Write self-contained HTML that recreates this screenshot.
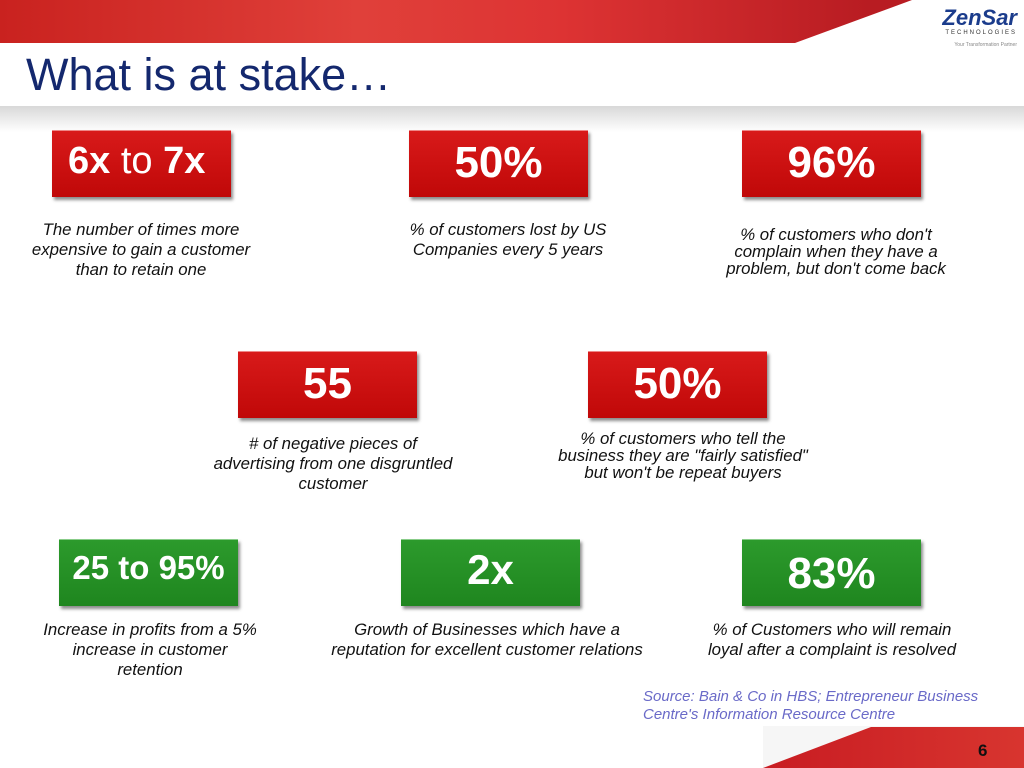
<!DOCTYPE html>
<html><head><meta charset="utf-8"><style>
body{margin:0;width:1024px;height:768px;overflow:hidden;background:#fff;font-family:"Liberation Sans",sans-serif;position:relative}
.abs{position:absolute}
.box{position:absolute;width:179px;height:66px;color:#fff;font-weight:bold;font-size:45px;text-align:center;line-height:64px;box-shadow:2px 3px 3px rgba(0,0,0,.45);border-top:1px solid #e88;white-space:nowrap}
.red{background:linear-gradient(#d81a1a,#c00808)}
.green{background:linear-gradient(#2c9a2c,#1f861f);border-top-color:#8c8}
.desc{position:absolute;font-style:italic;font-size:16.8px;text-align:center;color:#111;line-height:20px;white-space:nowrap}
</style></head><body>
<div class="abs" style="left:0;top:0;width:1024px;height:43px;background:linear-gradient(90deg,#c9221f,#e0403a 35%,#d33 55%,#b81c22 85%)"></div>
<svg class="abs" style="left:0;top:0" width="1024" height="43"><polygon points="795,43 912,0 1024,0 1024,43" fill="#fff"/></svg>
<div class="abs" style="left:925px;top:6px;width:92px;text-align:right">
<div style="color:#1b3c8c;font-weight:bold;font-style:italic;font-size:22px;line-height:24px">ZenSar</div>
<div style="color:#333;font-size:6px;letter-spacing:2px">TECHNOLOGIES</div>
<div style="color:#888;font-size:5px;margin-top:6px">Your Transformation Partner</div></div>
<div class="abs" style="left:26px;top:49px;font-size:45px;color:#14286e;line-height:52px">What is at stake…</div>
<div class="abs" style="left:0;top:106px;width:1024px;height:26px;background:linear-gradient(#d8d8d8,#fff)"></div>

<div class="box red" style="left:52px;top:130px;font-size:38px;text-align:left;padding-left:16px;width:163px;line-height:60px">6x <span style="font-weight:normal">to</span> 7x</div>
<div class="box red" style="left:409px;top:130px;font-size:44px">50%</div>
<div class="box red" style="left:742px;top:130px;font-size:44px">96%</div>
<div class="box red" style="left:238px;top:351px;font-size:44px">55</div>
<div class="box red" style="left:588px;top:351px;font-size:44px">50%</div>
<div class="box green" style="left:59px;top:539px;font-size:33px;line-height:56px">25 to 95%</div>
<div class="box green" style="left:401px;top:539px;font-size:42px;line-height:60px">2x</div>
<div class="box green" style="left:742px;top:539px;font-size:44px;line-height:68px">83%</div>

<div class="desc" style="left:21px;top:220px;width:240px">The number of times more<br>expensive to gain a customer<br>than to retain one</div>
<div class="desc" style="left:388px;top:220px;width:240px">% of customers lost by US<br>Companies every 5 years</div>
<div class="desc" style="left:716px;top:226px;width:240px;line-height:17px">% of customers who don't<br>complain when they have a<br>problem, but don't come back</div>
<div class="desc" style="left:203px;top:434px;width:260px">&#35; of negative pieces of<br>advertising from one disgruntled<br>customer</div>
<div class="desc" style="left:548px;top:430px;width:270px;line-height:17px">% of customers who tell the<br>business they are "fairly satisfied"<br>but won't be repeat buyers</div>
<div class="desc" style="left:30px;top:620px;width:240px">Increase in profits from a 5%<br>increase in customer<br>retention</div>
<div class="desc" style="left:312px;top:620px;width:350px">Growth of Businesses which have a<br>reputation for excellent customer relations</div>
<div class="desc" style="left:692px;top:620px;width:280px">% of Customers who will remain<br>loyal after a complaint is resolved</div>

<div class="abs" style="left:643px;top:688px;font-style:italic;font-size:15px;color:#6a6ac8;line-height:18px;white-space:nowrap">Source: Bain &amp; Co in HBS; Entrepreneur Business<br>Centre's Information Resource Centre</div>
<svg class="abs" style="left:763px;top:726px" width="261" height="42"><defs><linearGradient id="g" x1="0" x2="1"><stop offset="0" stop-color="#c81c22"/><stop offset="1" stop-color="#d8352f"/></linearGradient></defs><rect width="261" height="42" fill="#f6f6f6"/><polygon points="0,42 108,1 261,1 261,42" fill="url(#g)"/></svg>
<div class="abs" style="left:978px;top:741px;font-weight:bold;font-size:17px;color:#111">6</div>
</body></html>
